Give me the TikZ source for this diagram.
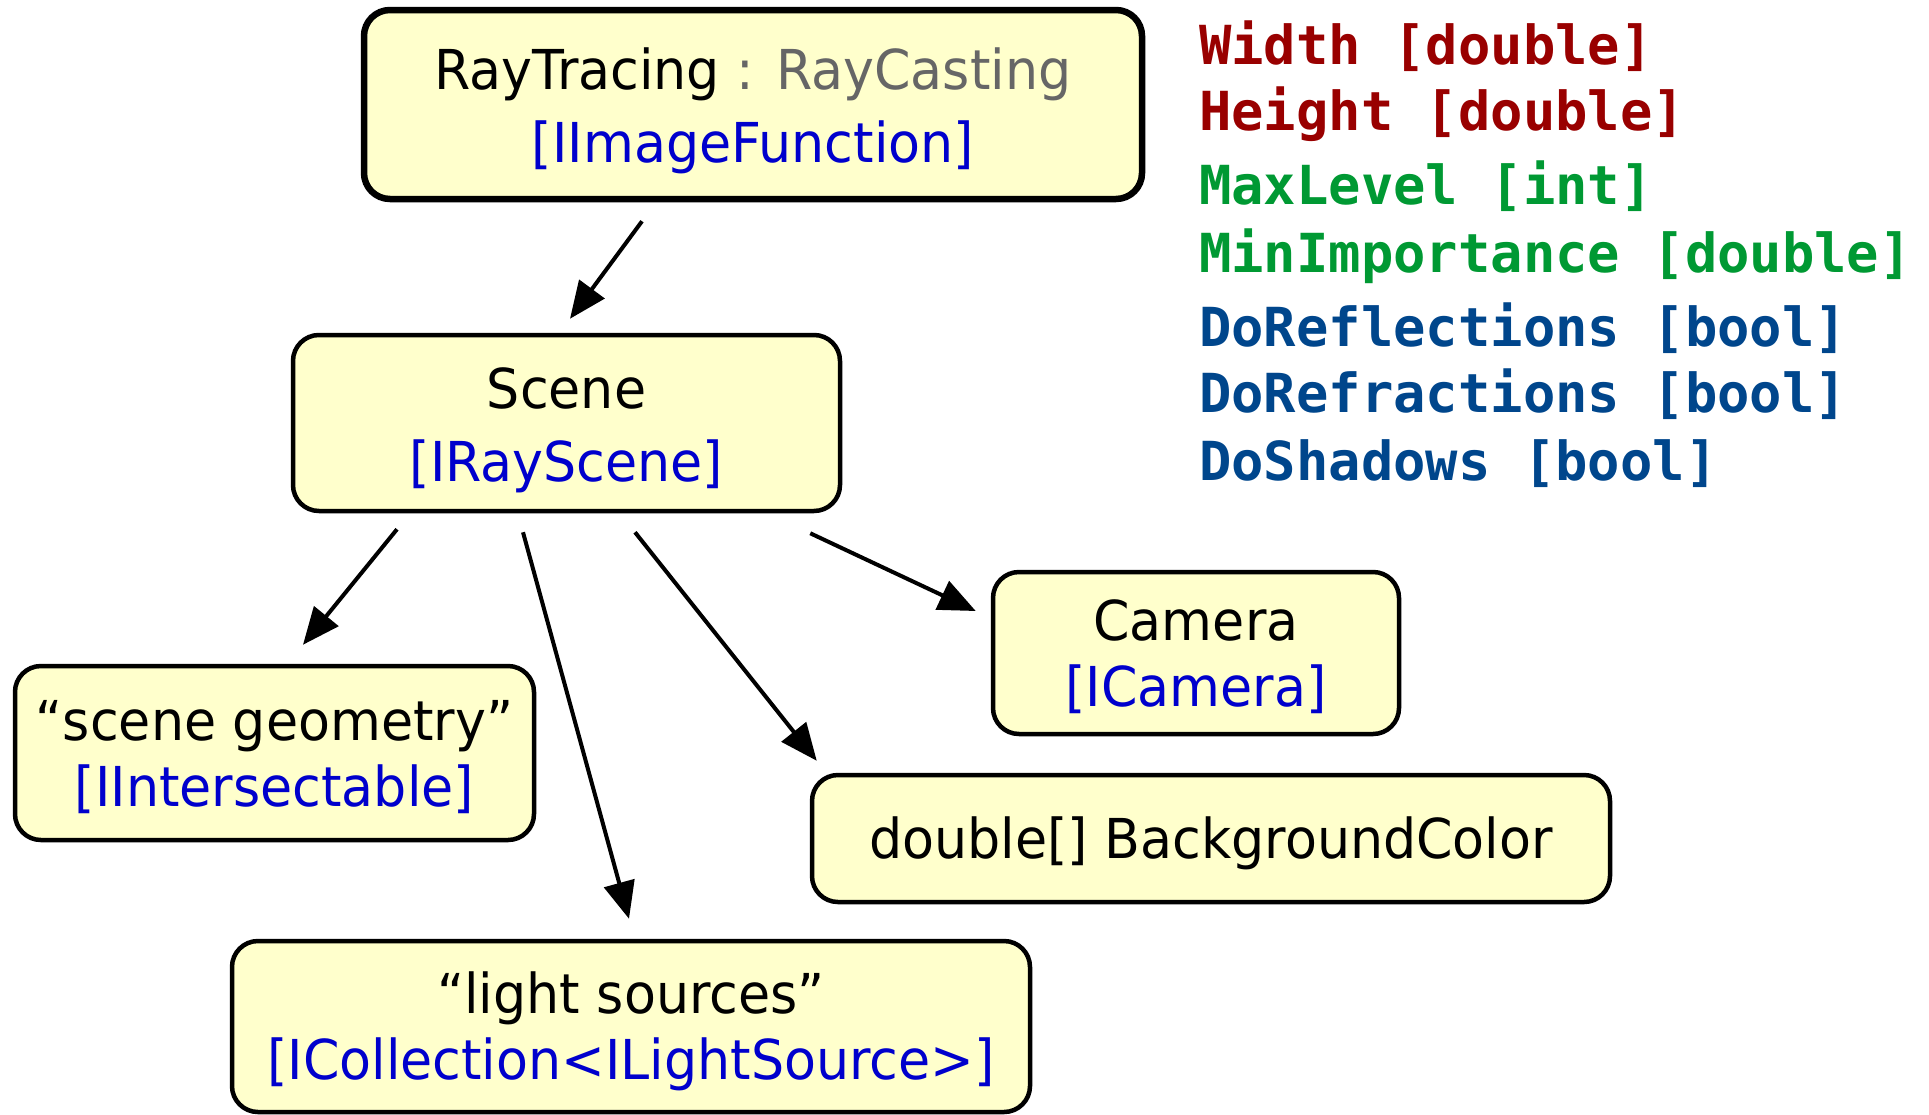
\documentclass[tikz,border=0pt]{standalone}
\usepackage{fontspec}
\newfontfamily\boxfont{DejaVu Sans}[FakeStretch=0.95]
\newfontfamily\codefont{DejaVu Sans Mono}[BoldFont={DejaVu Sans Mono Bold}]
\usetikzlibrary{arrows.meta,calc}

\definecolor{boxfill}{RGB}{255,255,204}
\definecolor{ifaceblue}{RGB}{0,0,204}
\definecolor{basegray}{RGB}{102,102,102}
\definecolor{parred}{RGB}{153,0,0}
\definecolor{pargreen}{RGB}{0,153,51}
\definecolor{parblue}{RGB}{0,70,140}

% centred lines of a box label, drawn a little below the geometric centre
\newcommand\boxlines[1]{\raisebox{-7pt}[\height][\depth]{\begin{tabular}{@{}c@{}}#1\end{tabular}}}

\tikzset{
  x=1pt, y=-1pt,
  objbox/.style={draw=black, fill=boxfill, line width=4.5pt, rounded corners=26pt,
    inner sep=0pt},
  mainbox/.style={objbox, line width=6.5pt},
  wide/.style={font=\boxfont\fontsize{55}{73}\selectfont},
  tight/.style={font=\boxfont\fontsize{55}{66}\selectfont},
  link/.style={line width=4pt, -{Triangle[length=37pt,width=31pt]}},
  param/.style={anchor=base west, inner sep=0pt, font=\codefont\bfseries\fontsize{53.8}{60}\selectfont}
}

\begin{document}
\begin{tikzpicture}
\useasboundingbox (0,0) rectangle (1929,1114);

% component boxes
\node[mainbox, wide, minimum width=778pt, minimum height=189pt] (tracer) at (753,104.5)
  {\boxlines{RayTracing \textcolor{basegray}{: RayCasting}\\ \textcolor{ifaceblue}{[IImageFunction]}}};
\node[objbox, wide, minimum width=547pt, minimum height=176pt] (scene) at (566.5,423)
  {\boxlines{Scene\\ \textcolor{ifaceblue}{[IRayScene]}}};
\node[objbox, tight, minimum width=519pt, minimum height=174pt] (geom) at (274.5,753)
  {\boxlines{“scene geometry”\\ \textcolor{ifaceblue}{[IIntersectable]}}};
\node[objbox, tight, minimum width=798pt, minimum height=171pt] (lights) at (631,1026.5)
  {\boxlines{“light sources”\\ \textcolor{ifaceblue}{[ICollection<ILightSource>]}}};
\node[objbox, tight, minimum width=406pt, minimum height=162pt] (camera) at (1196,653)
  {\boxlines{Camera\\ \textcolor{ifaceblue}{[ICamera]}}};
\node[objbox, tight, minimum width=798pt, minimum height=127pt] (bgcolor) at (1211,838.5)
  {\boxlines{double[] BackgroundColor}};

% references between components
\draw[link] ($(tracer.south)+(-111,19)$) -- ($(scene.north)+(3.5,-14)$);
\draw[link] ($(scene.south)+(-169.5,16)$) -- ($(geom.north)+(28.5,-19)$);
\draw[link] ($(scene.south)+(-43.5,19)$) -- ($(lights.north)+(-2,-20)$);
\draw[link] ($(scene.south)+(68.5,19)$) -- ($(bgcolor.north west)+(7,-12)$);
\draw[link] ($(scene.south east)+(-32,20)$) -- ($(camera.west)+(-15,-42)$);

% parameters
\node[param, text=parred]   (pw)  at (1199,64)  {Width [double]};
\node[param, text=parred]   (ph)  at (1199,130) {Height [double]};
\node[param, text=pargreen] (pml) at (1199,204) {MaxLevel [int]};
\node[param, text=pargreen] (pmi) at (1199,272) {MinImportance [double]};
\node[param, text=parblue]  (prl) at (1199,346) {DoReflections [bool]};
\node[param, text=parblue]  (prr) at (1199,412) {DoRefractions [bool]};
\node[param, text=parblue]  (psh) at (1199,480) {DoShadows [bool]};
\end{tikzpicture}
\end{document}
